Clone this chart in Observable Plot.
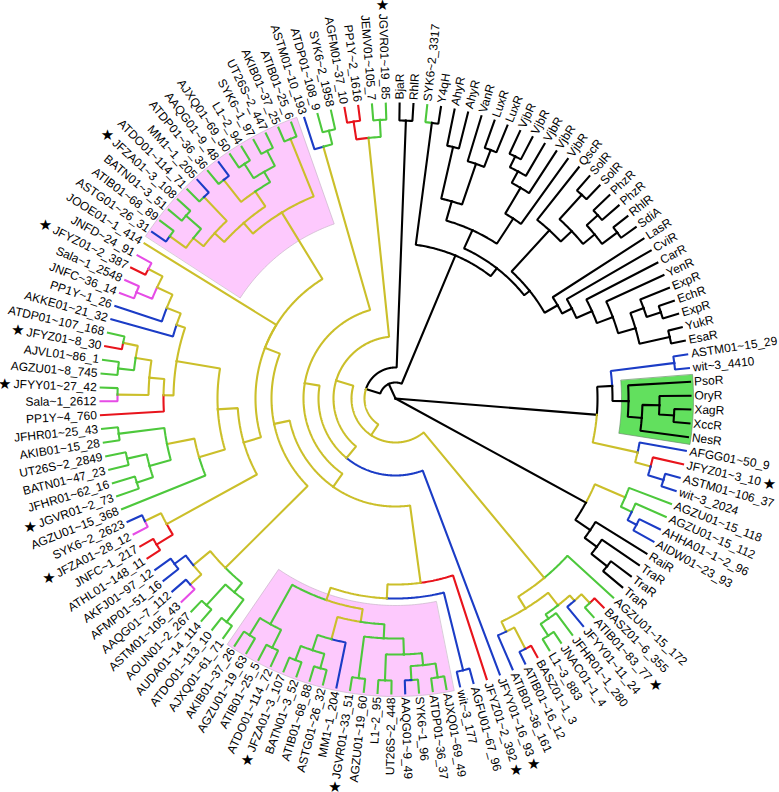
<!DOCTYPE html>
<html><head><meta charset="utf-8">
<script src="https://cdn.jsdelivr.net/npm/d3@7"></script>
<script src="https://cdn.jsdelivr.net/npm/@observablehq/plot@0.6"></script>
<style>body{margin:0;background:#fff}</style>
</head><body><div id="chart"></div>
<script>
// ---------- data ----------
const labels = ["BjaR","RhlR","SYK6~2_3317","Y4qH","AhyR","AhyR","VanR","LuxR","LuxR","VjbR","VjbR","VjbR","VjbR","VjbR","QscR","SolR","SolR","PhzR","PhzR","RhlR","SdiA","LasR","CviR","CarR","YenR","ExpR","EchR","ExpR","YukR","EsaR","ASTM01~15_29","wit~3_4410","PsoR","OryR","XagR","XccR","NesR","AFGG01~50_9","JFYZ01~3_10","ASTM01~106_37","wit~3_2024","AGZU01~15_118","AGZU01~15_112","AHHA01~1~2_96","AIDW01~23_93","RaiR","TraR","TraR","TraR","AGZU01~15_172","BASZ01~6_355","ATIB01~83_77","JFYY01~11_24","JFHR01~1_280","JNAC01~1_4","L1~3_883","BASZ01~1_3","ATIB01~16_12","ATIB01~36_161","JFYY01~16_93","JFYZ01~2_392","AGFU01~67_96","wit~3_177","AJXQ01~69_49","ATDP01~36_37","SYK6~1_96","AAQG01~9_49","UT26S~2_448","L1~2_95","AGZU01~19_60","JGVR01~33_51","MM1~1_204","ASTG01~26_32","ATIB01~68_88","BATN01~3_52","JFZA01~3_107","ATDO01~114_72","ATIB01~25_5","AGZU01~19_63","AKIB01~37_26","AJXQ01~61_71","ATDO01~113_10","AUDA01~14_114","AOUN01~2_267","ASTM01~105_43","AAQG01~7_112","AFMP01~51_16","AKFJ01~97_12","ATHL01~148_11","JNFC~1_217","JFZA01~28_12","SYK6~2_2623","AGZU01~15_368","JGVR01~2_73","JFHR01~62_16","BATN01~47_23","UT26S~2_2849","AKIB01~15_28","JFHR01~25_43","PP1Y~4_760","Sala~1_2612","JFYY01~27_42","AGZU01~8_745","AJVL01~86_1","JFYZ01~8_30","ATDP01~107_168","AKKE01~21_32","PP1Y~1_26","JNFC~36_14","Sala~1_2548","JFYZ01~2_387","JNFD~24_91","JOOE01~1_414","ASTG01~26_31","ATIB01~68_89","BATN01~3_51","JFZA01~3_108","ATDO01~114_71","MM1~1_205","ATDP01~36_36","AAQG01~9_48","AJXQ01~69_50","L1~2_94","SYK6~1_97","UT26S~2_447","AKIB01~37_25","ATIB01~25_6","ASTM01~10_193","ATDP01~108_9","SYK6~2_1958","AGFM01~37_10","PP1Y~2_1616","JEMV01~105_7","JGVR01~19_85"];

const tipColors = ("kkgkkkkkkk"+"kkkkkkkkkk"+"kkkkkkkkkk"+"bbkkkkkbrb"+"bggbbkkkkg"+
  "rgbgggrbbb"+"rbbgggbggg"+"gbgggggggg"+"ggggpbbbrr"+"pbgggggggr"+
  "pgggrgbbpp"+"rpybggggbg"+"bggggggbgg"+"rrgg").split("");

const starred = [39, 52, 60, 61, 71, 76, 91, 94, 102, 105, 111, 117, 134];

// topology: "(children)<node radius><edge colour code>", leaves are label numbers
const cladeL = "((3,4)278k,((((5,6)258k,(7,(8,9)266k)248k)205k,((((10,11)270k,12)258k,13)245k,14)215k)185k,((15,((16,17)276k,((18,19)273k,(20,21)277k)258k)243k)228k,(22,(23,(24,(25,((26,(27,28)279k)264k,(29,30)281k)250k)232k)215k)198k)187k)172k)165k)155k";
const cladeX = "(((31,32)281b,(33,((34,(35,36)279k)264k,37)247k)233k)217k,(38,(39,(40,41)280b)264y)248y)202k";
const cladeT = "((42,(43,(44,45)272b)262g)250y,(46,(47,(48,49)270k)250k)235k)217k";
const cladeS1 = "(50,((((51,52)282y,53)270y,(54,(55,56)282g)268g)263y,((57,58)282y,59)258y)247y)233y";
const cladeYt = "((131,132)280r,(133,134)279g)262y";
const cladeN128 = "(128,(129,130)276g)262y";
const cladeP0 = "(((77,78)278g,(79,80)278g)258g,((72,((73,74)280g,(75,76)280g)265g)249y,((70,71)282g,((68,69)282g,((64,65)282g,(66,67)282g)268g)256g)240g)226y)213y";
const cladeQ1 = "(((81,82)280g,(83,84)280g)252g,((85,86)277y,(87,88)276b)262y)240y";
const cladeN89 = "((89,90)280r,(91,92)279y)261y";
const cladeK1 = "(93,((98,99)279g,((96,97)275g,(94,95)272g)255g)233y)205y";
const cladeN7 = "((100,(((105,106)278y,(103,104)279g)263y,(101,102)278y)247y)232y,(107,(108,((109,110)280p,(111,112)279y)263y)246y)231y)222y";
const cladeUP = "(((((114,115)278y,(116,117)278g)258y,(118,119)278y)245y,((120,121)278y,((122,123)279g,(124,125)279g)262g)250y)232y,(126,127)280y)218y";

const highlights = [
  {first: 114, last: 127, inner: 185, fill: "#fdc9fd", stroke: "#c8b4c8"},
  {first: 64, last: 80, inner: 207, fill: "#fdc9fd", stroke: "#c8b4c8"},
  {first: 33, last: 37, inner: 226, fill: "#62e05e", stroke: "#6a8f6a"}
];

const COLORS = {k: "#000000", y: "#cbbf2a", g: "#4dc83c", b: "#1b3cc6", r: "#e8141c", p: "#e64ce6"};

// ---------- assemble topology ----------
const Z = "(61,((62,63)280b," + cladeP0 + ")200y)186y";
const Zt = "(" + cladeK1 + "," + cladeN7 + ")178y";
const Zs = "(" + cladeN89 + "," + Zt + ")158y";
const Zr = "(" + Zs + ",113," + cladeUP + ")140y";
const Zq = "(" + cladeQ1 + "," + Zr + ")124y";
const Zp = "(" + Z + "," + Zq + ")108y";
const Yk2 = "(" + Zp + "," + cladeN128 + ")92y";
const Yk = "(60," + Yk2 + ")77y";
const Yd = "(" + Yk + "," + cladeYt + ")62y";
const Yc = "(" + cladeS1 + "," + Yd + ")44y";
const A = "((1,2)278k," + Yc + ")31k";
const B = "(" + A + "," + cladeL + ")16k";
const newick = "(" + B + "," + cladeX + "," + cladeT + ")0k";

function parse(s) {
  let i = 0;
  function node() {
    if (s[i] === "(") {
      i++;
      const children = [];
      while (true) {
        children.push(node());
        if (s[i] === ",") { i++; continue; }
        if (s[i] === ")") { i++; break; }
        throw new Error("parse error at " + i);
      }
      let num = "";
      while (/[0-9.]/.test(s[i])) num += s[i++];
      const c = s[i++];
      return {children, r: +num, c};
    } else {
      let num = "";
      while (/[0-9]/.test(s[i])) num += s[i++];
      return {leaf: +num};
    }
  }
  return node();
}

// ---------- layout ----------
const W = 779, H = 792, CX = 395, CY = 398, RTIP = 295;
const N = labels.length, STEP = 360 / N, OFF = 0.8, SEAM = 130;
const polar = (r, a) => { const t = a * Math.PI / 180; return [CX + r * Math.sin(t), CY - r * Math.cos(t)]; };
const leafAngle = i => { let a = OFF + (i - 1) * STEP; if (a < SEAM) a += 360; return a; };

const root = parse(newick);
function layout(n) {
  if (n.leaf) { n.a = leafAngle(n.leaf); n.r = RTIP; n.c = tipColors[n.leaf - 1]; return; }
  n.children.forEach(layout);
  const as = n.children.map(c => c.a);
  n.a = (Math.min(...as) + Math.max(...as)) / 2;
}
layout(root);

const edges = [];
let eid = 0;
function collect(n) {
  if (!n.children) return;
  for (const c of n.children) {
    eid++;
    const steps = Math.max(1, Math.ceil(Math.abs(c.a - n.a) / 0.5));
    for (let k = 0; k <= steps; k++) {
      const p = polar(n.r, n.a + (c.a - n.a) * k / steps);
      edges.push({x: p[0], y: p[1], id: eid, color: COLORS[c.c]});
    }
    const q = polar(c.r, c.a);
    edges.push({x: q[0], y: q[1], id: eid, color: COLORS[c.c]});
    collect(c);
  }
}
collect(root);

// highlight sectors
const hlMarks = highlights.map(h => {
  const a0 = leafAngle(h.first) - STEP / 2, a1 = leafAngle(h.last) + STEP / 2, r1 = RTIP + 3;
  const pts = [];
  for (let k = 0; k <= 60; k++) { const p = polar(r1, a0 + (a1 - a0) * k / 60); pts.push({x: p[0], y: p[1]}); }
  for (let k = 60; k >= 0; k--) { const p = polar(h.inner, a0 + (a1 - a0) * k / 60); pts.push({x: p[0], y: p[1]}); }
  return Plot.line(pts, {x: "x", y: "y", fill: h.fill, stroke: h.stroke, strokeWidth: 0.7, curve: "linear-closed"});
});

// labels
const FONT = "'Liberation Sans', Arial, sans-serif";
const ctx = document.createElement("canvas").getContext("2d");
ctx.font = "12px " + FONT;
const LR = RTIP + 4;
const lab = labels.map((t, i) => {
  const a = leafAngle(i + 1), am = ((a % 360) + 360) % 360;
  const right = am < 180;
  const p = polar(LR, a);
  const w = ctx.measureText(t).width;
  const s = polar(LR + w + 9, a);
  return {text: t, x: p[0], y: p[1], rot: right ? am - 90 : am - 270, right, sx: s[0], sy: s[1], star: starred.includes(i + 1)};
});

const chart = Plot.plot({
  width: W, height: H, margin: 0,
  x: {type: "identity"}, y: {type: "identity"},
  color: {type: "identity"},
  style: {background: "#fff"},
  marks: [
    ...hlMarks,
    Plot.line(edges, {x: "x", y: "y", z: "id", stroke: "color", strokeWidth: 2.1, strokeLinecap: "square", strokeLinejoin: "miter"}),
    Plot.text(lab.filter(d => d.right), {x: "x", y: "y", text: "text", rotate: "rot", textAnchor: "start", fontSize: 12, fontFamily: FONT, fill: "#000"}),
    Plot.text(lab.filter(d => !d.right), {x: "x", y: "y", text: "text", rotate: "rot", textAnchor: "end", fontSize: 12, fontFamily: FONT, fill: "#000"}),
    Plot.text(lab.filter(d => d.star), {x: "sx", y: "sy", text: () => "★", fontSize: 15, fontFamily: "DejaVu Sans, sans-serif", fill: "#000"})
  ]
});
document.getElementById("chart").appendChild(chart);
</script>
</body></html>
